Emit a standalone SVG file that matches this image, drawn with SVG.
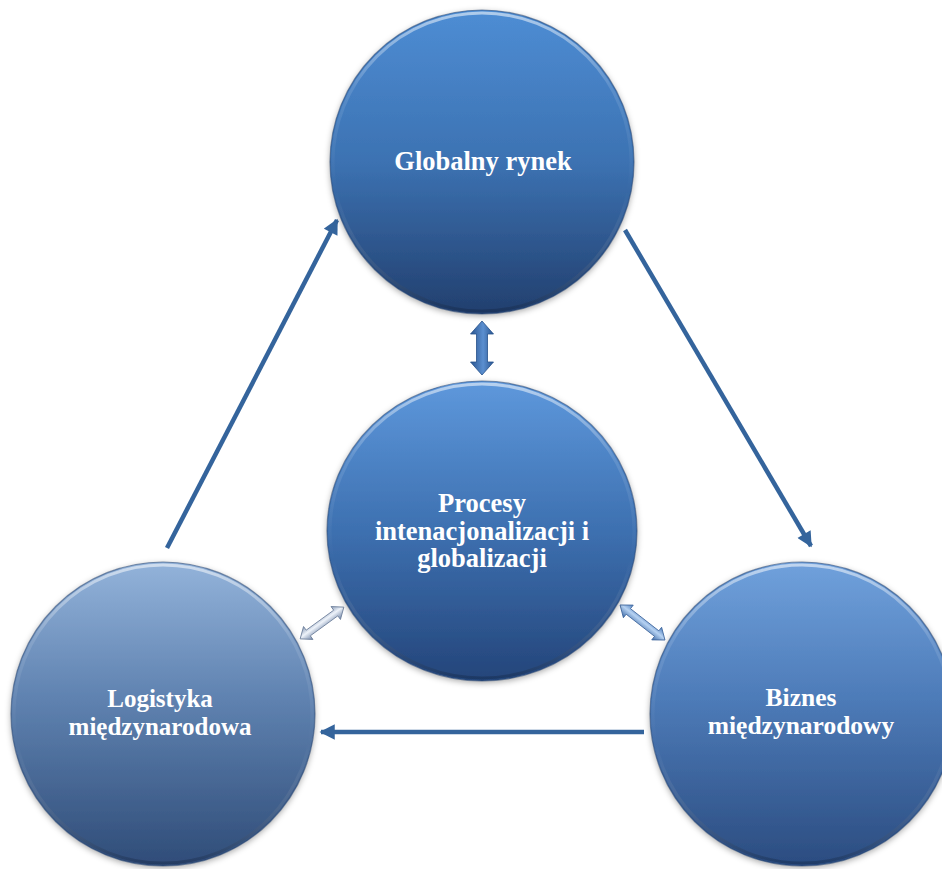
<svg xmlns="http://www.w3.org/2000/svg" width="942" height="869" viewBox="0 0 942 869">
  <style>
    .label { font-family: "Liberation Serif", "Times New Roman", serif; font-weight: bold; fill: #ffffff; text-anchor: middle; }
    .conn { stroke: #34649c; stroke-width: 4.5; fill: none; }
    .rim { fill: none; stroke: url(#rimGrad); stroke-width: 3; }
    .edge { fill: none; stroke: #24426e; stroke-opacity: 0.55; stroke-width: 1.2; }
  </style>
  <defs>
    <linearGradient id="gTop" x1="0" y1="0" x2="0" y2="1">
      <stop offset="0" stop-color="#4e8dd4"/>
      <stop offset="0.5" stop-color="#3c72b2"/>
      <stop offset="1" stop-color="#223f6e"/>
    </linearGradient>
    <linearGradient id="gMid" x1="0" y1="0" x2="0" y2="1">
      <stop offset="0" stop-color="#5e98dc"/>
      <stop offset="0.5" stop-color="#3d70b0"/>
      <stop offset="1" stop-color="#24457a"/>
    </linearGradient>
    <linearGradient id="gLeft" x1="0" y1="0" x2="0" y2="1">
      <stop offset="0" stop-color="#93b3da"/>
      <stop offset="0.45" stop-color="#5f82b0"/>
      <stop offset="1" stop-color="#2f4c78"/>
    </linearGradient>
    <linearGradient id="gRight" x1="0" y1="0" x2="0" y2="1">
      <stop offset="0" stop-color="#70a1dc"/>
      <stop offset="0.45" stop-color="#4d7bb8"/>
      <stop offset="1" stop-color="#2b4c80"/>
    </linearGradient>
    <linearGradient id="rimGrad" x1="0" y1="0" x2="0" y2="1">
      <stop offset="0" stop-color="#ffffff" stop-opacity="0.55"/>
      <stop offset="0.25" stop-color="#ffffff" stop-opacity="0.12"/>
      <stop offset="0.6" stop-color="#ffffff" stop-opacity="0"/>
      <stop offset="1" stop-color="#0d1f3a" stop-opacity="0.35"/>
    </linearGradient>
    <linearGradient id="gBlueArrow" x1="0" y1="0" x2="0" y2="1">
      <stop offset="0" stop-color="#2a5590"/>
      <stop offset="0.45" stop-color="#5b8fd0"/>
      <stop offset="1" stop-color="#2a5590"/>
    </linearGradient>
    <linearGradient id="gSilverArrow" x1="0" y1="0" x2="0" y2="1">
      <stop offset="0" stop-color="#8a9cb8"/>
      <stop offset="0.45" stop-color="#eef3fa"/>
      <stop offset="1" stop-color="#6f84a6"/>
    </linearGradient>
    <linearGradient id="gLightBlueArrow" x1="0" y1="0" x2="0" y2="1">
      <stop offset="0" stop-color="#4f7fbd"/>
      <stop offset="0.45" stop-color="#b6d2f2"/>
      <stop offset="1" stop-color="#3d6aa6"/>
    </linearGradient>
    <filter id="shadow" x="-20%" y="-20%" width="140%" height="140%">
      <feDropShadow dx="0" dy="2" stdDeviation="3" flood-color="#000000" flood-opacity="0.35"/>
    </filter>
    <marker id="head" viewBox="0 0 10 10" refX="9" refY="5" markerWidth="3.6" markerHeight="3.4" orient="auto" markerUnits="strokeWidth">
      <path d="M0,0 L10,5 L0,10 z" fill="#34649c"/>
    </marker>
  </defs>

  <rect width="942" height="869" fill="#ffffff"/>

  <!-- straight connectors of the cycle -->
  <g id="connectors">
    <line class="conn" x1="167" y1="548" x2="337" y2="220" marker-end="url(#head)"/>
    <line class="conn" x1="625" y1="230" x2="811" y2="546" marker-end="url(#head)"/>
    <line class="conn" x1="644" y1="732" x2="321" y2="732" marker-end="url(#head)"/>

    <!-- two-way block arrows around the central circle -->
    <g transform="translate(482 348) rotate(90)">
      <polygon points="-27,0 -14,-11.5 -14,-5.5 14,-5.5 14,-11.5 27,0 14,11.5 14,5.5 -14,5.5 -14,11.5" fill="url(#gBlueArrow)" stroke="#25508a" stroke-width="0.8"/>
    </g>
    <g transform="translate(322 623) rotate(-36)">
      <polygon points="-27,0 -17,-8 -17,-3.5 17,-3.5 17,-8 27,0 17,8 17,3.5 -17,3.5 -17,8" fill="url(#gSilverArrow)" stroke="#6a7c99" stroke-width="0.8"/>
    </g>
    <g transform="translate(642.5 622.5) rotate(38)">
      <polygon points="-28.5,0 -18,-8 -18,-3.5 18,-3.5 18,-8 28.5,0 18,8 18,3.5 -18,3.5 -18,8" fill="url(#gLightBlueArrow)" stroke="#3e659c" stroke-width="0.8"/>
    </g>
  </g>

  <!-- nodes -->
  <g id="node-globalny-rynek">
    <circle cx="482" cy="162" r="152" fill="url(#gTop)" filter="url(#shadow)"/>
    <circle class="rim" cx="482" cy="162" r="149"/>
    <circle class="edge" cx="482" cy="162" r="152"/>
    <text class="label" x="483" y="170" font-size="26.5">Globalny rynek</text>
  </g>

  <g id="node-procesy">
    <ellipse cx="482" cy="531" rx="155" ry="150" fill="url(#gMid)" filter="url(#shadow)"/>
    <ellipse class="rim" cx="482" cy="531" rx="152" ry="147"/>
    <ellipse class="edge" cx="482" cy="531" rx="155" ry="150"/>
    <text class="label" x="482" y="512" font-size="26.5">Procesy</text>
    <text class="label" x="482" y="540" font-size="26.5">intenacjonalizacji i</text>
    <text class="label" x="482" y="567" font-size="26.5">globalizacji</text>
  </g>

  <g id="node-logistyka">
    <circle cx="163" cy="714" r="152" fill="url(#gLeft)" filter="url(#shadow)"/>
    <circle class="rim" cx="163" cy="714" r="149"/>
    <circle class="edge" cx="163" cy="714" r="152"/>
    <text class="label" x="160" y="707" font-size="25">Logistyka</text>
    <text class="label" x="160" y="735" font-size="25">międzynarodowa</text>
  </g>

  <g id="node-biznes">
    <circle cx="802" cy="714" r="152" fill="url(#gRight)" filter="url(#shadow)"/>
    <circle class="rim" cx="802" cy="714" r="149"/>
    <circle class="edge" cx="802" cy="714" r="152"/>
    <text class="label" x="801" y="706" font-size="25.5">Biznes</text>
    <text class="label" x="801" y="734" font-size="25.5">międzynarodowy</text>
  </g>
</svg>
